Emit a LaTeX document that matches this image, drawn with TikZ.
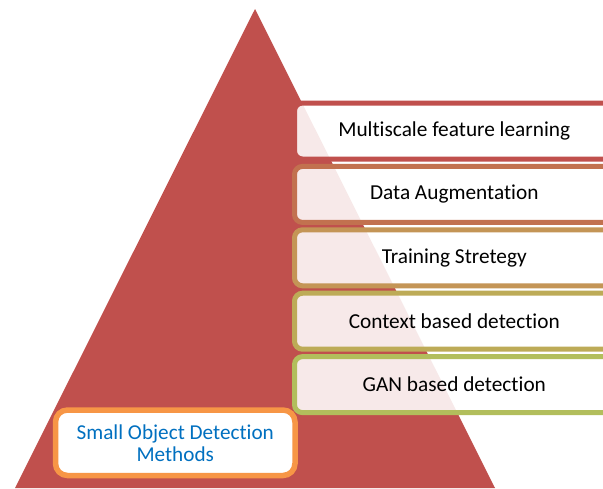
\documentclass[tikz,border=0pt]{standalone}
\usepackage{fontspec}
\setmainfont{Carlito}[Ligatures=NoCommon]
\definecolor{pyrred}{HTML}{C0504D}
\definecolor{edgeA}{HTML}{C0504D}
\definecolor{edgeB}{HTML}{C2714F}
\definecolor{edgeC}{HTML}{C49556}
\definecolor{edgeD}{HTML}{BDAB57}
\definecolor{edgeE}{HTML}{B2BE5C}
\definecolor{rootedge}{HTML}{F79646}
\definecolor{roottext}{HTML}{0070C0}
\tikzset{
  itembox/.style={rectangle, rounded corners=8pt, line width=5pt,
    fill=white, fill opacity=0.88, text opacity=1,
    minimum width=319.5pt, minimum height=56pt, inner sep=0pt,
    font=\fontsize{21.3}{22}\selectfont},
  rootbox/.style={rectangle, rounded corners=12pt, line width=5.5pt,
    draw=rootedge, fill=white, text=roottext, align=center,
    minimum width=239.5pt, minimum height=65.5pt, inner sep=0pt,
    font=\fontsize{21.2}{22}\selectfont}
}
\begin{document}
\begin{tikzpicture}[x=1pt,y=-1pt]
\clip (0,0) rectangle (603,488);
% pyramid
\fill[pyrred] (255,9) -- (495,488) -- (15,488) -- cycle;
% level boxes
\node[itembox, draw=edgeA] (m1) at (454.25,131) {Multiscale feature learning};
\node[itembox, draw=edgeB] (m2) at (454.25,194.4) {Data Augmentation};
\node[itembox, draw=edgeC] (m3) at (454.25,257.8) {Training Stretegy};
\node[itembox, draw=edgeD] (m4) at (454.25,321.2) {Context based detection};
\node[itembox, draw=edgeE] (m5) at (454.25,384.6) {GAN based detection};
% base label
\node[rootbox] (root) at (175.25,442.75) {Small Object Detection\\Methods};
\end{tikzpicture}
\end{document}
